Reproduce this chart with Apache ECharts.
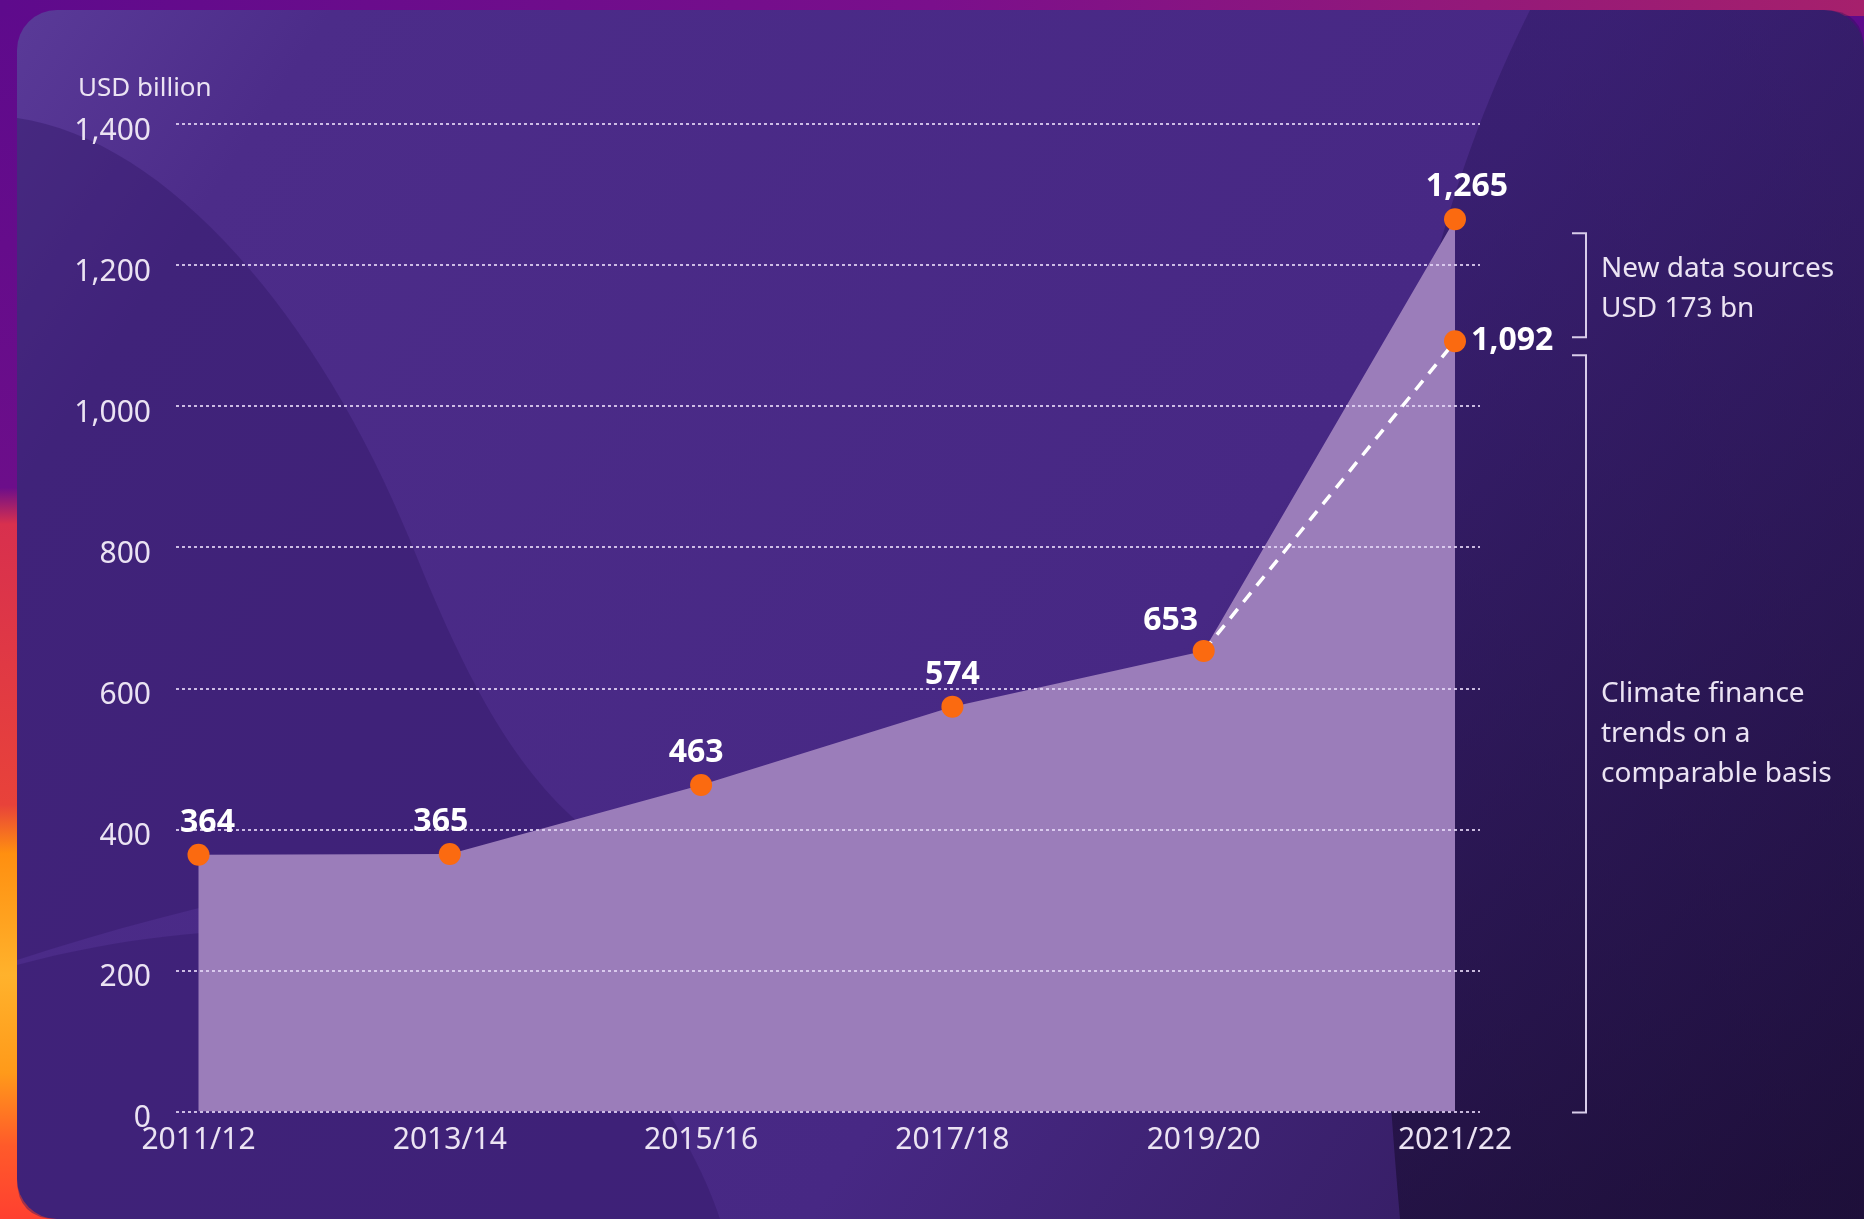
<!DOCTYPE html>
<html>
<head>
<meta charset="utf-8">
<title>Climate finance trends</title>
<script src="https://cdn.jsdelivr.net/npm/echarts@6/dist/echarts.min.js"></script>
<style>
  html, body { margin: 0; padding: 0; background: #5e0a8c; }
  #chart { width: 1864px; height: 1219px; }
</style>
</head>
<body>
<div id="chart"></div>
<script>
const periods = ['2011/12', '2013/14', '2015/16', '2017/18', '2019/20', '2021/22']
// total incl. new data sources (top of the shaded area)
const totalFinance = [364, 365, 463, 574, 653, 1265]
// comparable basis, dashed segment from 2019/20
const comparable = [null, null, null, null, 653, 1092]
const yMin = 0
const yMax = 1400
const yStep = 200
const newSourcesNote = ['New data sources', 'USD 173 bn']
const comparableNote = ['Climate finance', 'trends on a', 'comparable basis']

const FONT = '"Noto Sans", sans-serif'
const TEXT = '#ebe3f3'
const ORANGE = '#fb6a10'
const fmt = v => Number(v).toLocaleString('en-US')

// small nudges for a few value labels (as in the original artwork)
const labelNudge = { 0: [9, 0], 1: [-9, 0], 2: [-5, 0], 4: [-33, 2], 5: [12, 0] }

// decorative background blobs
const blobs = {
  blobLeft: 'M17,118 C170,140 320,320 410,540 C470,690 520,780 600,840 C400,860 200,900 17,960 Z',
  blobBottom: 'M17,965 C150,930 260,925 420,930 C560,940 680,1100 720,1219 L57,1219 Q17,1219 17,1179 Z',
  blobRight: 'M1530,10 C1450,170 1410,330 1390,520 C1375,700 1372,900 1400,1219 L1864,1219 L1864,50 Q1864,10 1824,10 Z'
}
Object.keys(blobs).forEach(k => {
  echarts.graphic.registerShape(k, echarts.graphic.extendPath(blobs[k], {}))
})

const chart = echarts.init(document.getElementById('chart'))

const background = [
  {
    id: 'outer', type: 'rect', z: -20, silent: true,
    shape: { x: 0, y: 0, width: 1864, height: 1219 },
    style: { fill: { type: 'linear', x: 0, y: 0, x2: 0, y2: 1, colorStops: [
      { offset: 0, color: '#5e0a8c' }, { offset: 0.4, color: '#6c0e8a' },
      { offset: 0.43, color: '#d8304e' }, { offset: 0.66, color: '#e8423a' },
      { offset: 0.7, color: '#ff8f10' }, { offset: 0.8, color: '#ffb22c' },
      { offset: 0.88, color: '#ff9a1a' }, { offset: 0.94, color: '#ff5a2a' },
      { offset: 1, color: '#ff4030' }] } }
  },
  {
    id: 'topstrip', type: 'rect', z: -20, silent: true,
    shape: { x: 0, y: 0, width: 1864, height: 16 },
    style: { fill: { type: 'linear', x: 0, y: 0, x2: 1, y2: 0, colorStops: [
      { offset: 0, color: '#5e0a8c' }, { offset: 0.5, color: '#7a0f8c' },
      { offset: 1, color: '#a6206c' }] } }
  },
  {
    id: 'card', type: 'rect', z: -19, silent: true,
    shape: { x: 17, y: 10, width: 1847, height: 1209, r: [40, 40, 0, 40] },
    style: { fill: { type: 'linear', x: 0, y: 0, x2: 1, y2: 1, colorStops: [
      { offset: 0, color: '#5a3a98' }, { offset: 0.12, color: '#4c2c89' },
      { offset: 0.6, color: '#472884' }, { offset: 1, color: '#2c1852' }] } }
  },
  {
    id: 'blobLeft', type: 'blobLeft', z: -18, silent: true,
    style: { fill: 'rgba(50,24,104,0.45)' }
  },
  {
    id: 'blobBottom', type: 'blobBottom', z: -18, silent: true,
    style: { fill: 'rgba(50,24,104,0.45)' }
  },
  {
    id: 'blobRight', type: 'blobRight', z: -18, silent: true,
    style: { fill: { type: 'linear', x: 0, y: 0, x2: 0.3, y2: 1, colorStops: [
      { offset: 0, color: 'rgba(40,20,92,0.4)' }, { offset: 1, color: 'rgba(18,8,38,0.55)' }] } }
  }
]

const markerData = totalFinance.map((v, i) => labelNudge[i]
  ? { value: v, label: { offset: labelNudge[i] } }
  : { value: v })

const dashedData = comparable.map((v, i) => i === comparable.length - 1
  ? { value: v, symbol: 'circle', label: { show: true } }
  : { value: v, symbol: 'none' })

const valueLabel = {
  color: '#ffffff', fontSize: 32, fontWeight: 'bold', fontFamily: FONT,
  formatter: p => fmt(p.value)
}

const option = {
  animation: false,
  title: {
    text: 'USD billion', left: 78, top: 76, padding: 0,
    textStyle: { color: TEXT, fontSize: 26, fontWeight: 'normal', fontFamily: FONT }
  },
  graphic: { elements: background },
  grid: [
    { left: 176, right: 384, top: 124, bottom: 107.5, outerBoundsMode: 'none', containLabel: false },
    { left: 198.5, right: 409, top: 124, bottom: 107.5, outerBoundsMode: 'none', containLabel: false }
  ],
  xAxis: [
    { type: 'category', gridIndex: 0, data: periods, show: false },
    {
      type: 'category', gridIndex: 1, data: periods, boundaryGap: false,
      axisLine: { show: false }, axisTick: { show: false },
      axisLabel: { color: TEXT, fontSize: 30, fontFamily: FONT, margin: 14 }
    }
  ],
  yAxis: [
    {
      type: 'value', gridIndex: 0, min: yMin, max: yMax, interval: yStep, z: 2,
      axisLine: { show: false }, axisTick: { show: false },
      axisLabel: {
        color: TEXT, fontSize: 30, fontFamily: FONT, margin: 25,
        verticalAlign: 'top', lineHeight: 14, formatter: fmt
      },
      splitLine: { lineStyle: { color: 'rgba(228,214,246,0.85)', width: 2, type: [3, 3] } }
    },
    { type: 'value', gridIndex: 1, min: yMin, max: yMax, interval: yStep, show: false }
  ],
  series: [
    {
      name: 'area', type: 'line', xAxisIndex: 1, yAxisIndex: 1, z: 1, silent: true,
      data: totalFinance, showSymbol: false,
      lineStyle: { width: 0 },
      areaStyle: { color: '#9b7dba', opacity: 1 }
    },
    {
      name: 'comparable', type: 'line', xAxisIndex: 1, yAxisIndex: 1, z: 3, silent: true,
      data: dashedData, symbolSize: 22,
      itemStyle: { color: ORANGE },
      lineStyle: { color: '#ffffff', width: 3.5, type: [12, 9] },
      label: Object.assign({ show: false, position: 'right', distance: 5 }, valueLabel)
    },
    {
      name: 'total', type: 'line', xAxisIndex: 1, yAxisIndex: 1, z: 4, silent: true,
      data: markerData, symbol: 'circle', symbolSize: 22, showSymbol: true,
      itemStyle: { color: ORANGE },
      lineStyle: { width: 0, opacity: 0 },
      label: Object.assign({ show: true, position: 'top', distance: 5 }, valueLabel)
    }
  ]
}

chart.setOption(option)

// brackets + notes, placed from the data values
const px = v => chart.convertToPixel({ gridIndex: 1 }, [periods.length - 1, v])
const [xEnd, yTop] = px(totalFinance[totalFinance.length - 1])
const yMid = px(comparable[comparable.length - 1])[1]
const yZero = px(0)[1]
const spine = xEnd + 131

function bracket(id, y1, y2, lines, dy) {
  return [
    {
      id: id + 'Line', type: 'polyline', z: 5, silent: true,
      shape: { points: [[spine - 14, y1], [spine, y1], [spine, y2], [spine - 14, y2]] },
      style: { stroke: '#d9cdea', lineWidth: 2, fill: null }
    },
    {
      id: id + 'Text', type: 'text', z: 5, silent: true,
      x: spine + 15, y: (y1 + y2) / 2 + dy,
      style: {
        text: lines.join('\n'), fill: TEXT, fontSize: 28, fontFamily: FONT,
        lineHeight: 40, verticalAlign: 'middle', align: 'left'
      }
    }
  ]
}

chart.setOption({
  graphic: {
    elements: [
      ...bracket('newSources', yTop + 14, yMid - 4, newSourcesNote, 4),
      ...bracket('comparableBasis', yMid + 14, yZero + 1, comparableNote, 0)
    ]
  }
})
</script>
</body>
</html>
